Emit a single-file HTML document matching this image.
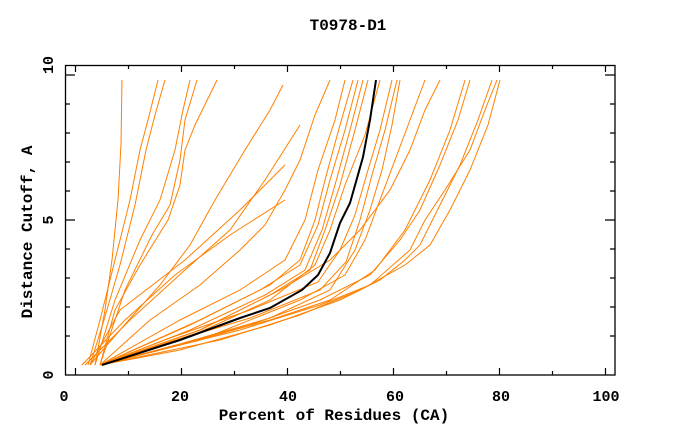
<!DOCTYPE html>
<html><head><meta charset="utf-8"><style>
body{margin:0;background:#fff}
svg text{font-family:"Liberation Mono","DejaVu Sans Mono",monospace;font-weight:bold;font-size:15px;fill:#000}
svg text.l{font-size:16px}
</style></head><body>
<svg width="680" height="440" viewBox="0 0 680 440" xmlns="http://www.w3.org/2000/svg">
<rect width="680" height="440" fill="#fff"/>
<text class="l" x="348" y="30" text-anchor="middle">T0978-D1</text>
<rect x="65.5" y="65.5" width="549.5" height="309.5" fill="none" stroke="#000" stroke-width="1.3"/>
<g stroke="#000" stroke-width="1.2">
<path d="M75.5 375v-7M128.5 375v-4M181.5 375v-7M234.5 375v-4M287.5 375v-7M340.5 375v-4M393.5 375v-7M446.5 375v-4M499.5 375v-7M552.5 375v-4M605.5 375v-7"/>
<path d="M75.5 65v7M128.5 65v4M181.5 65v7M234.5 65v4M287.5 65v7M340.5 65v4M393.5 65v7M446.5 65v4M499.5 65v7M552.5 65v4M605.5 65v7"/>
<path d="M65 336h5M65 307h5M65 278h5M65 249h5M65 220h10M65 191h5M65 162h5M65 133h5M65 104h5M65 75h10"/>
<path d="M615 336h-5M615 307h-5M615 278h-5M615 249h-5M615 220h-10M615 191h-5M615 162h-5M615 133h-5M615 104h-5M615 75h-10"/>
</g>
<text x="64" y="401" text-anchor="middle">0</text>
<text x="180" y="401" text-anchor="middle">20</text>
<text x="288" y="401" text-anchor="middle">40</text>
<text x="395" y="401" text-anchor="middle">60</text>
<text x="501" y="401" text-anchor="middle">80</text>
<text x="606" y="401" text-anchor="middle">100</text>
<text class="l" x="334" y="420" text-anchor="middle">Percent of Residues (CA)</text>
<text transform="translate(53,375) rotate(-90)" text-anchor="middle">0</text>
<text transform="translate(53,220) rotate(-90)" text-anchor="middle">5</text>
<text transform="translate(53,65) rotate(-90)" text-anchor="middle">10</text>
<text class="l" transform="translate(32,232) rotate(-90)" text-anchor="middle">Distance Cutoff, A</text>
<g fill="none" stroke="#ff8000" stroke-width="1">
<polyline points="122,80 121,144 118,200 112,260 105,310 95,365"/>
<polyline points="158,80 148,120 140,150 130,200 115,260 100,320 88,365"/>
<polyline points="165,80 155,115 146,150 135,205 120,265 104,320 90,365"/>
<polyline points="190,80 183,110 175,150 160,200 140,240 115,300 95,365"/>
<polyline points="197,80 185,120 180,160 170,205 152,235 125,290 100,365"/>
<polyline points="217,80 195,125 185,150 180,185 168,220 140,265 115,310 100,365"/>
<polyline points="283,85 270,110 245,150 215,200 190,245 160,285 120,330 90,365"/>
<polyline points="285,165 240,210 185,260 120,310 90,365"/>
<polyline points="300,125 265,180 230,230 185,270 130,320 85,365"/>
<polyline points="285,200 230,235 175,275 125,320 82,365"/>
<polyline points="330,80 315,115 300,160 285,190 265,225 240,250 200,285 150,320 100,365"/>
<polyline points="345,80 335,120 318,170 305,220 285,260 240,290 180,320 100,365"/>
<polyline points="353,80 340,125 325,180 315,220 300,260 270,285 200,320 100,365"/>
<polyline points="358,80 345,130 330,180 318,225 300,265 260,290 190,325 100,365"/>
<polyline points="363,80 350,130 335,185 322,230 305,270 265,295 190,330 100,365"/>
<polyline points="368,80 355,130 340,185 325,230 310,270 270,295 200,330 100,365"/>
<polyline points="380,80 365,135 345,185 330,230 315,265 270,300 200,332 100,365"/>
<polyline points="392,80 380,130 368,170 355,215 340,250 318,282 250,310 170,338 100,365"/>
<polyline points="397,80 385,130 372,175 360,220 346,262 320,290 250,318 170,342 100,365"/>
<polyline points="400,80 392,125 382,170 370,210 355,250 330,290 270,318 180,344 100,365"/>
<polyline points="425,80 410,120 395,160 380,200 365,240 345,275 300,300 200,340 100,365"/>
<polyline points="440,80 425,110 410,150 390,190 360,230 330,260 280,290 200,330 100,365"/>
<polyline points="465,80 450,130 430,180 405,230 375,270 330,300 270,320 180,345 100,365"/>
<polyline points="470,80 458,120 440,165 420,210 400,240 370,275 320,300 250,325 160,350 100,365"/>
<polyline points="492,80 478,120 460,165 440,205 420,245 405,260 380,280 340,300 270,325 180,350 100,365"/>
<polyline points="500,80 488,125 470,170 450,210 430,245 405,265 360,290 300,315 220,340 100,365"/>
<polyline points="497,80 485,110 470,150 445,190 425,220 410,250 370,285 320,305 240,330 100,365"/>
</g>
<polyline fill="none" stroke="#000" stroke-width="2" points="102,365 180,340 240,318 270,308 302,290 318,275 330,253 340,223 350,203 363,157 370,120 373,100 376,80"/>
</svg>
</body></html>
